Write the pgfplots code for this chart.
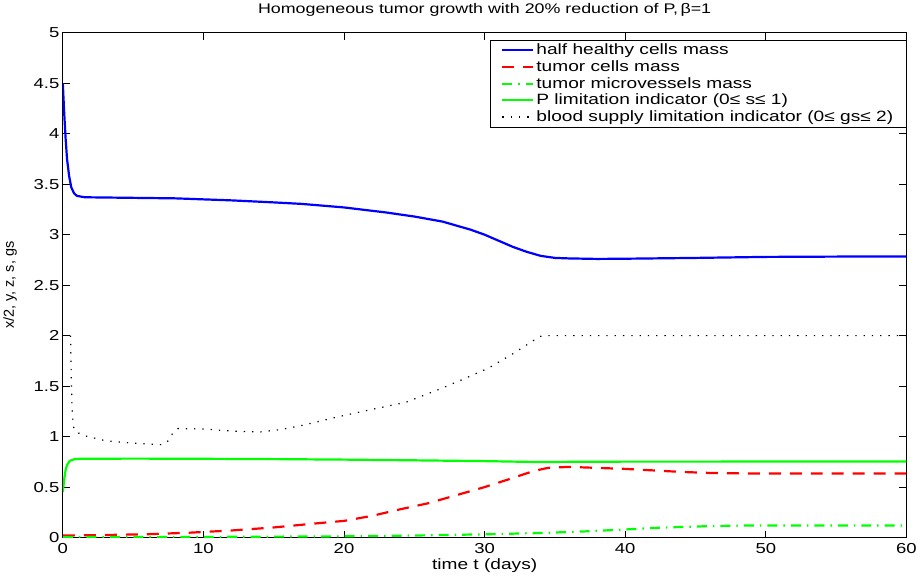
\documentclass[border=0pt]{standalone}
\usepackage{pgfplots}
\pgfplotsset{compat=1.18}
\usepackage{fontspec}
\setmainfont{Liberation Sans}[FakeStretch=1.28]
\newfontfamily\plainsans{Liberation Sans}
\begin{document}
\begin{tikzpicture}
\begin{axis}[
  scale only axis,
  width=844bp, height=505bp,
  xmin=0, xmax=60, ymin=0, ymax=5,
  xtick={0,10,...,60},
  ytick={0,0.5,...,5},
  yticklabels={0,0.5,1,1.5,2,2.5,3,3.5,4,4.5,5},
  tick align=inside,
  major tick length=7bp,
  axis line style={line width=0.8pt},
  every tick/.style={black, line width=0.7pt},
  /pgf/number format/assume math mode=true,
  tick label style={font=\fontsize{14.5}{16}\selectfont},
  xticklabel style={yshift=-2bp},
  yticklabel style={xshift=0bp},
  title={Homogeneous tumor growth with 20\% reduction of P,\,β=1},
  title style={font=\fontsize{14}{16}\selectfont, yshift=7bp},
  xlabel={time t (days)},
  ylabel={x/2, y, z, s, gs},
  xlabel style={font=\fontsize{15}{17}\selectfont, yshift=1bp},
  ylabel style={font=\plainsans\fontsize{14.5}{16}\selectfont, yshift=10bp},
  legend style={at={(1,0.986)}, anchor=north east, font=\fontsize{15}{17.8}\selectfont,
    draw=black, inner xsep=11bp, inner ysep=2bp, row sep=0.4bp,
    cells={anchor=west}},
  legend cell align=left,
  legend image code/.code={\draw[#1] (0bp,0bp) -- (31bp,0bp);},
]
\addplot[blue, line width=2.2bp] coordinates {
(0,4.5) (0.1,4.2) (0.2,3.95) (0.3,3.75) (0.45,3.58) (0.6,3.47) (0.8,3.41) (1.0,3.385) (1.5,3.372) (2,3.37) (5,3.365) (8,3.36) (10,3.35) (12,3.34) (15,3.32) (17,3.305) (20,3.27) (23,3.22) (25,3.18) (27,3.13) (29,3.05) (30,3.0) (31,2.94) (32,2.88) (33,2.83) (34,2.79) (35,2.77) (36,2.765) (38,2.76) (40,2.762) (45,2.77) (50,2.78) (55,2.783) (60,2.785)};
\addlegendentry{half healthy cells mass}
\addplot[red, line width=2.2bp, dash pattern=on 12bp off 9bp] coordinates {
(0,0.02) (3,0.025) (6,0.033) (9,0.048) (12,0.07) (15,0.1) (18,0.14) (20,0.165) (22,0.215) (24,0.28) (26,0.34) (28,0.42) (30,0.5) (32,0.59) (33.5,0.66) (34.5,0.69) (36,0.7) (38,0.69) (40,0.68) (42,0.665) (44,0.65) (46,0.64) (48,0.636) (50,0.634) (60,0.634)};
\addlegendentry{tumor cells mass}
\addplot[green, line width=2.2bp, dash pattern=on 10bp off 6bp on 1.5bp off 6bp] coordinates {
(0,0.005) (10,0.006) (20,0.012) (25,0.02) (30,0.032) (34,0.045) (37,0.06) (40,0.08) (42,0.095) (44,0.105) (46,0.113) (48,0.118) (50,0.12) (60,0.12)};
\addlegendentry{tumor microvessels mass}
\addplot[green, line width=2.2bp] coordinates {
(0,0.45) (0.1,0.58) (0.2,0.67) (0.3,0.72) (0.5,0.76) (0.8,0.775) (1.2,0.78) (5,0.782) (10,0.78) (15,0.777) (20,0.772) (25,0.765) (30,0.757) (33,0.75) (34,0.748) (36,0.75) (40,0.752) (60,0.753)};
\addlegendentry{P limitation indicator (0≤ s≤ 1)}
\addplot[black, line width=1.2bp, dash pattern=on 1.3bp off 7bp] coordinates {
(0.55,2.0) (0.6,1.6) (0.65,1.3) (0.75,1.1) (0.9,1.05) (1.5,1.01) (3,0.96) (5,0.935) (7,0.92) (7.4,0.94) (7.8,1.03) (8.2,1.08) (10,1.075) (12,1.055) (14,1.045) (15.5,1.07) (17,1.11) (19.7,1.2) (22,1.27) (24.4,1.34) (26.8,1.47) (28.5,1.57) (30.3,1.68) (32,1.82) (33.9,1.99) (34.2,2.0) (60,2.0)};
\addlegendentry{blood supply limitation indicator (0≤ gs≤ 2)}
\end{axis}
\end{tikzpicture}
\end{document}
